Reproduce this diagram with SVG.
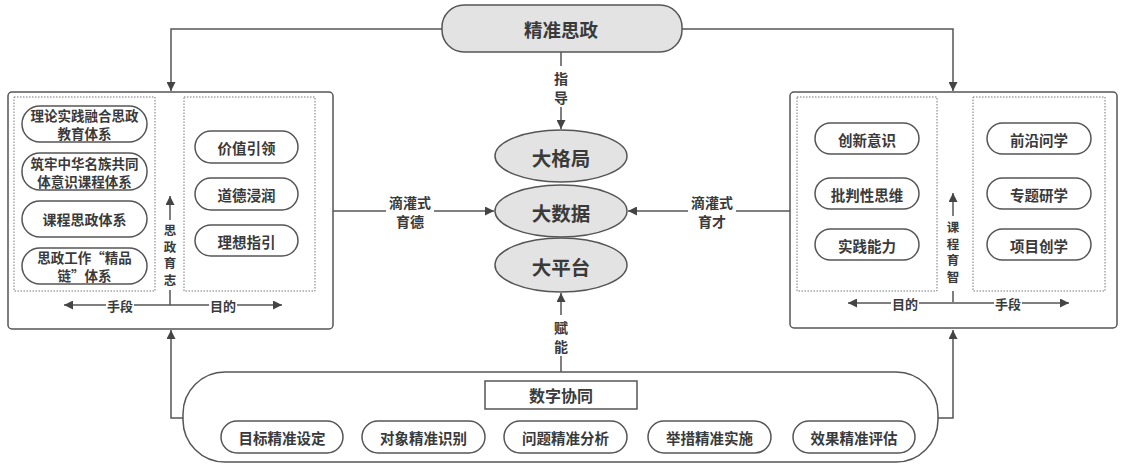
<svg xmlns="http://www.w3.org/2000/svg" width="1122" height="465" viewBox="0 0 1122 465">
<defs>
<marker id="ah" viewBox="0 0 10 10" refX="10" refY="5" markerWidth="9" markerHeight="9" markerUnits="userSpaceOnUse" orient="auto-start-reverse">
<path d="M0,0 L10,5 L0,10 Z" fill="#444"/>
</marker>
<style>
.ln{fill:none;stroke:#555;stroke-width:1.5}
.box{fill:#fff;stroke:#555;stroke-width:1.5}
.dot{fill:none;stroke:#777;stroke-width:1;stroke-dasharray:1.5 1.5}
.pill{fill:#fff;stroke:#555;stroke-width:1.5}
.gray{fill:#e3e3e3;stroke:#555;stroke-width:1.5}
text{font-family:"Noto Sans CJK SC","Noto Sans",sans-serif;font-weight:bold;fill:#3a3a3a;text-anchor:middle;dominant-baseline:central}
.t14{font-size:14px}
.t13b{font-size:13.5px}
.t15{font-size:14.5px}
.t13{font-size:13px}
.v{font-size:12.5px;writing-mode:vertical-rl;letter-spacing:4px}
.big{font-size:19.5px}
</style>
</defs>
<rect width="1122" height="465" fill="#fff"/>

<g id="connectors">
<path class="ln" d="M442,29 H171 V91" marker-end="url(#ah)"/>
<path class="ln" d="M682,29 H953 V91" marker-end="url(#ah)"/>
<path class="ln" d="M561,52 V66"/>
<path class="ln" d="M561,107 V129" marker-end="url(#ah)"/>
<path class="ln" d="M333,211 H386"/>
<path class="ln" d="M434,211 H494" marker-end="url(#ah)"/>
<path class="ln" d="M790,211 H736"/>
<path class="ln" d="M688,211 H628" marker-end="url(#ah)"/>
<path class="ln" d="M561,372 V356"/>
<path class="ln" d="M561,315 V293" marker-end="url(#ah)"/>
<path class="ln" d="M183,418 H171 V330" marker-end="url(#ah)"/>
<path class="ln" d="M938,418 H953 V330" marker-end="url(#ah)"/>
<text class="t14"><tspan x="561" y="78">指</tspan><tspan x="561" y="97">导</tspan></text>
<text class="t14"><tspan x="410" y="202">滴灌式</tspan><tspan x="410" y="221">育德</tspan></text>
<text class="t14"><tspan x="712" y="202">滴灌式</tspan><tspan x="712" y="221">育才</tspan></text>
<text class="t14"><tspan x="561" y="327">赋</tspan><tspan x="561" y="346">能</tspan></text>
</g>

<g id="top">
<rect class="gray" x="442" y="5" width="240" height="47" rx="22"/>
<text class="big" x="561" y="29" style="font-size:18.5px">精准思政</text>
</g>

<g id="center">
<ellipse class="gray" cx="561" cy="156" rx="66" ry="26"/>
<text class="big" x="561" y="157">大格局</text>
<ellipse class="gray" cx="561" cy="211" rx="66" ry="26"/>
<text class="big" x="561" y="212">大数据</text>
<ellipse class="gray" cx="561" cy="265" rx="66" ry="27"/>
<text class="big" x="561" y="266">大平台</text>
</g>

<g id="left">
<rect class="box" x="8" y="92" width="325" height="237" rx="4"/>
<rect class="dot" x="14" y="97" width="141" height="194"/>
<rect class="dot" x="184" y="97" width="131" height="194"/>
<rect class="pill" x="22" y="106" width="125" height="36" rx="18"/>
<text class="t13b"><tspan x="84.5" y="115">理论实践融合思政</tspan><tspan x="84.5" y="133">教育体系</tspan></text>
<rect class="pill" x="22" y="153" width="125" height="37" rx="18"/>
<text class="t13b"><tspan x="84.5" y="162.5">筑牢中华名族共同</tspan><tspan x="84.5" y="180.5">体意识课程体系</tspan></text>
<rect class="pill" x="22" y="201" width="125" height="36" rx="18"/>
<text class="t14" x="84.5" y="219">课程思政体系</text>
<rect class="pill" x="22" y="248" width="125" height="36" rx="18"/>
<text class="t13b"><tspan x="84.5" y="257">思政工作“精品</tspan><tspan x="84.5" y="275">链”体系</tspan></text>
<rect class="pill" x="195" y="131" width="103" height="32" rx="16"/>
<text class="t15" x="246.5" y="147">价值引领</text>
<rect class="pill" x="195" y="178" width="103" height="32" rx="16"/>
<text class="t15" x="246.5" y="194">道德浸润</text>
<rect class="pill" x="195" y="225" width="103" height="31" rx="16"/>
<text class="t15" x="246.5" y="241">理想指引</text>
<path class="ln" d="M170,220 V196" marker-end="url(#ah)"/>
<path class="ln" d="M170,290 V305"/>
<text class="v" x="170" y="257">思政育志</text>
<path class="ln" d="M106,305 H64" marker-end="url(#ah)"/>
<path class="ln" d="M134,305 H209"/>
<path class="ln" d="M237,305 H282" marker-end="url(#ah)"/>
<text class="t13" x="120" y="305">手段</text>
<text class="t13" x="223" y="305">目的</text>
</g>

<g id="right">
<rect class="box" x="790" y="92" width="327" height="236" rx="4"/>
<rect class="dot" x="797" y="97" width="140" height="194"/>
<rect class="dot" x="973" y="97" width="132" height="194"/>
<rect class="pill" x="815" y="123" width="104" height="31" rx="15.5"/>
<text class="t15" x="867" y="139">创新意识</text>
<rect class="pill" x="815" y="178" width="104" height="31" rx="15.5"/>
<text class="t15" x="867" y="194">批判性思维</text>
<rect class="pill" x="815" y="229" width="104" height="31" rx="15.5"/>
<text class="t15" x="867" y="245">实践能力</text>
<rect class="pill" x="987" y="123" width="104" height="31" rx="15.5"/>
<text class="t15" x="1039" y="139">前沿问学</text>
<rect class="pill" x="987" y="178" width="104" height="31" rx="15.5"/>
<text class="t15" x="1039" y="194">专题研学</text>
<rect class="pill" x="987" y="229" width="104" height="31" rx="15.5"/>
<text class="t15" x="1039" y="245">项目创学</text>
<path class="ln" d="M953,216 V193" marker-end="url(#ah)"/>
<path class="ln" d="M953,291 V302"/>
<text class="v" x="953" y="254">课程育智</text>
<path class="ln" d="M891,303 H848" marker-end="url(#ah)"/>
<path class="ln" d="M919,303 H994"/>
<path class="ln" d="M1022,303 H1069" marker-end="url(#ah)"/>
<text class="t13" x="905" y="303">目的</text>
<text class="t13" x="1008" y="303">手段</text>
</g>

<g id="bottom">
<rect class="box" x="183" y="372" width="755" height="90" rx="42"/>
<rect class="box" x="485" y="381" width="152" height="28"/>
<text x="561" y="395" style="font-size:16px">数字协同</text>
<rect class="pill" x="221" y="421" width="122" height="32" rx="16"/>
<text class="t15" x="282" y="437">目标精准设定</text>
<rect class="pill" x="362" y="421" width="123" height="32" rx="16"/>
<text class="t15" x="423.5" y="437">对象精准识别</text>
<rect class="pill" x="504" y="421" width="123" height="32" rx="16"/>
<text class="t15" x="565.5" y="437">问题精准分析</text>
<rect class="pill" x="648" y="421" width="123" height="32" rx="16"/>
<text class="t15" x="709.5" y="437">举措精准实施</text>
<rect class="pill" x="793" y="421" width="122" height="32" rx="16"/>
<text class="t15" x="854" y="437">效果精准评估</text>
</g>
</svg>
